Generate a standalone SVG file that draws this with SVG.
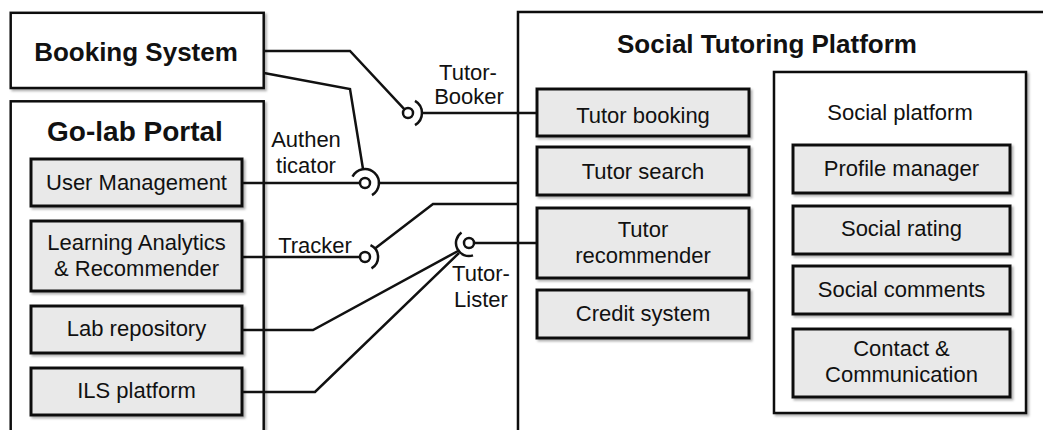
<svg xmlns="http://www.w3.org/2000/svg" width="1043" height="430" viewBox="0 0 1043 430">
<defs>
<filter id="sh" x="-10%" y="-10%" width="130%" height="140%">
<feDropShadow dx="2" dy="2" stdDeviation="1.3" flood-color="#000" flood-opacity="0.3"/>
</filter>
</defs>
<style>
.cont{fill:#fff;stroke:#111;stroke-width:2.5;filter:url(#sh)}
.box{fill:#e9e9e9;stroke:#111;stroke-width:3;filter:url(#sh)}
.t{font-family:"Liberation Sans",Arial,Helvetica,sans-serif;font-size:22px;fill:#111;text-anchor:middle}
.title{font-family:"Liberation Sans",Arial,Helvetica,sans-serif;font-weight:bold;fill:#111;text-anchor:middle}
.lbl{font-family:"Liberation Sans",Arial,Helvetica,sans-serif;font-size:22px;fill:#111;text-anchor:middle}
.c{fill:none;stroke:#111;stroke-width:2.5;stroke-linejoin:miter}
.ball{fill:#fff;stroke:#111;stroke-width:2.5}
</style>
<rect width="1043" height="430" fill="#fff"/>

<g id="social-tutoring-platform">
<rect class="cont" x="518" y="12" width="560" height="440"/>
<text class="title" x="767" y="53" font-size="26">Social Tutoring Platform</text>
</g>

<g id="booking-system">
<rect class="cont" x="10.7" y="12.8" width="253" height="75.2"/>
<text class="title" x="136" y="61" font-size="26">Booking System</text>
</g>

<g id="golab-portal">
<rect class="cont" x="10.7" y="101.3" width="253" height="350"/>
<text class="title" x="135" y="141" font-size="28">Go-lab Portal</text>
</g>

<g id="connectors">
<path class="c" d="M264,51 H350 L404.5,109.3"/>
<path class="c" d="M415,100.9 A14,14 0 0 1 415,125.1"/>
<path class="c" d="M422,113 H537"/>
<path class="c" d="M264,73 L350,89 L363,169"/>
<path class="c" d="M352.5,176.6 A14,14 0 1 1 372,195.1"/>
<path class="c" d="M242,183 H360"/>
<path class="c" d="M379,183 H518"/>
<path class="c" d="M242,257 H360"/>
<path class="c" d="M370.5,245.2 A13,13 0 0 1 371.5,268.3"/>
<path class="c" d="M375,248.6 L433,204 H518"/>
<path class="c" d="M537,243 H474"/>
<path class="c" d="M473,255.4 A13,13 0 0 1 461.5,232.4"/>
<path class="c" d="M242,330 H313 L458,251"/>
<path class="c" d="M242,392 H315 L459,253"/>
<circle class="ball" cx="408" cy="113" r="5"/>
<circle class="ball" cx="365" cy="183" r="5"/>
<circle class="ball" cx="365" cy="257" r="5"/>
<circle class="ball" cx="469" cy="243" r="5"/>
</g>

<g id="labels">
<text class="lbl" x="468" y="80">Tutor-</text>
<text class="lbl" x="469" y="104">Booker</text>
<text class="lbl" x="306" y="147">Authen</text>
<text class="lbl" x="306" y="173">ticator</text>
<text class="lbl" x="315" y="253">Tracker</text>
<text class="lbl" x="481" y="281">Tutor-</text>
<text class="lbl" x="481" y="307">Lister</text>
</g>

<g id="user-management">
<rect class="box" x="31" y="159" width="211" height="47"/>
<text class="t" x="136.5" y="190">User Management</text>
</g>
<g id="learning-analytics">
<rect class="box" x="31" y="221" width="211" height="70"/>
<text class="t" x="136.5" y="250">Learning Analytics</text>
<text class="t" x="136.5" y="276">&amp; Recommender</text>
</g>
<g id="lab-repository">
<rect class="box" x="31" y="306" width="211" height="47"/>
<text class="t" x="136.5" y="336">Lab repository</text>
</g>
<g id="ils-platform">
<rect class="box" x="31" y="368" width="211" height="47"/>
<text class="t" x="136.5" y="398">ILS platform</text>
</g>

<g id="tutor-booking">
<rect class="box" x="537" y="89" width="212" height="47"/>
<text class="t" x="643" y="123">Tutor booking</text>
</g>
<g id="tutor-search">
<rect class="box" x="537" y="147" width="212" height="48"/>
<text class="t" x="643" y="179">Tutor search</text>
</g>
<g id="tutor-recommender">
<rect class="box" x="537" y="208" width="212" height="70"/>
<text class="t" x="643" y="237">Tutor</text>
<text class="t" x="643" y="263">recommender</text>
</g>
<g id="credit-system">
<rect class="box" x="537" y="290" width="212" height="48"/>
<text class="t" x="643" y="321">Credit system</text>
</g>

<g id="social-platform">
<rect class="cont" x="774" y="72" width="252" height="341"/>
<text class="t" x="900" y="120">Social platform</text>
</g>
<g id="profile-manager">
<rect class="box" x="793" y="145" width="217" height="48"/>
<text class="t" x="901.5" y="176">Profile manager</text>
</g>
<g id="social-rating">
<rect class="box" x="793" y="206" width="217" height="48"/>
<text class="t" x="901.5" y="236">Social rating</text>
</g>
<g id="social-comments">
<rect class="box" x="793" y="266" width="217" height="48"/>
<text class="t" x="901.5" y="297">Social comments</text>
</g>
<g id="contact-communication">
<rect class="box" x="793" y="329" width="217" height="68"/>
<text class="t" x="901.5" y="356">Contact &amp;</text>
<text class="t" x="901.5" y="382">Communication</text>
</g>
</svg>
